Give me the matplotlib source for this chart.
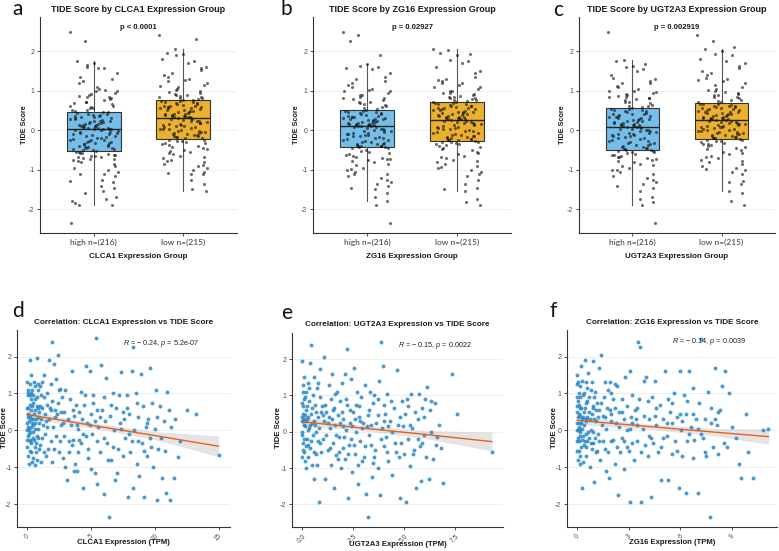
import matplotlib
matplotlib.use('Agg')
import matplotlib.pyplot as plt
import numpy as np

W, H = 779, 551

# ---------------- top row: TIDE score by expression group ----------------
groups = ['high n=(216)', 'low n=(215)']
p_labels = ['p < 0.0001', 'p = 0.02927', 'p = 0.002919']

# box stats: [whislo, q1, med, q3, whishi]
clca1_high_stats = [-1.9, -0.52, 0.03, 0.45, 1.75]
clca1_low_stats = [-1.55, -0.22, 0.30, 0.75, 2.05]
zg16_high_stats = [-1.8, -0.43, 0.10, 0.50, 1.68]
zg16_low_stats = [-1.55, -0.27, 0.25, 0.70, 2.05]
ugt2a3_high_stats = [-1.9, -0.50, 0.07, 0.55, 1.78]
ugt2a3_low_stats = [-1.55, -0.22, 0.25, 0.68, 2.05]

clca1_high = [2.48, 2.25, 1.76, 1.7, 1.6, 1.58, 1.56, 1.45, 1.3, 1.25, 1.2, 1.05, 1.0, 0.98,
              0.95, 0.9, 0.85, 0.8, 0.78, 0.72, 0.7, 0.65, 0.6, 0.58, 0.55, 0.5, 0.48, 0.45,
              0.42, 0.4, 0.38, 0.35, 0.33, 0.3, 0.28, 0.26, 0.24, 0.22, 0.2, 0.18, 0.16, 0.15,
              0.13, 0.12, 0.1, 0.09, 0.08, 0.07, 0.06, 0.05, 0.04, 0.03, 0.02,
              0.0, -0.02, -0.05, -0.08, -0.1, -0.12, -0.15, -0.17, -0.2, -0.22, -0.24, -0.26,
              -0.28, -0.3, -0.32, -0.34, -0.36, -0.38, -0.4, -0.42, -0.44, -0.46, -0.48, -0.5,
              -0.52, -0.55, -0.58, -0.6, -0.62, -0.65, -0.68, -0.7, -0.72, -0.75, -0.8, -0.85,
              -0.95, -1.0, -1.05, -1.1, -1.15, -1.25, -1.3, -1.4, -1.45, -1.55, -1.7, -1.75,
              -1.8, -1.9, -1.9, -2.35,
              1.65, 1.35, 1.1, 0.92, 0.83, 0.75, 0.68, 0.62, 0.56, 0.52, 0.47, 1.02, 0.87,
              0.43, 0.39, 0.36, 0.31, 0.27, 0.23, 0.19, 0.14, 0.11, 0.06, 0.04, 0.21, 0.34,
              0.01, -0.04, -0.09, -0.14, -0.19, -0.25, -0.29, -0.33, -0.39, -0.43, -0.47, -0.51,
              -0.07, -0.54, -0.63, -0.69, -0.74, -0.78, -0.9, -1.12, -1.28, -1.6, -1.85, -0.66,
              -0.57]
clca1_low = [2.4, 2.05, 1.95, 1.92, 1.9, 1.75, 1.7, 1.6, 1.58, 1.45, 1.35, 1.3, 1.28, 1.2,
             1.15, 1.1, 1.05, 1.0, 0.95, 0.92, 0.88, 0.85, 0.82, 0.8, 0.77,
             0.74, 0.72, 0.7, 0.68, 0.66, 0.64, 0.62, 0.6, 0.58, 0.56, 0.55, 0.53, 0.5, 0.48,
             0.46, 0.44, 0.42, 0.4, 0.38, 0.37, 0.36, 0.35, 0.33, 0.32, 0.3,
             0.28, 0.26, 0.24, 0.22, 0.2, 0.18, 0.16, 0.14, 0.12, 0.1, 0.08, 0.06, 0.04, 0.02,
             0.0, -0.02, -0.04, -0.06, -0.08, -0.1, -0.12, -0.14, -0.16, -0.18, -0.21,
             -0.24, -0.27, -0.3, -0.33, -0.37, -0.4, -0.45, -0.5, -0.55, -0.6, -0.65, -0.7,
             -0.75, -0.8, -0.85, -0.9, -0.95, -1.0, -1.05, -1.1, -1.1, -1.25, -1.35, -1.5, -1.55,
             2.3, 1.8, 1.52, 1.25, 1.12, 1.02, 0.97, 0.9, 0.86, 0.79, 0.76, 1.4, 0.84,
             0.73, 0.69, 0.65, 0.61, 0.57, 0.52, 0.49, 0.45, 0.41, 0.39, 0.34, 0.31, 0.59,
             0.27, 0.23, 0.19, 0.15, 0.11, 0.07, 0.03, -0.01, -0.05, -0.09, -0.13, -0.17, -0.2,
             -0.25, -0.28, -0.35, -0.42, -0.48, -0.58, -0.68, -0.78, -0.88, -1.08, -0.32, -0.52]
zg16_high = [2.48, 2.4, 2.25, 1.68, 1.62, 1.6, 1.55, 1.45, 1.35, 1.3, 1.2, 1.05, 1.02, 1.0,
             0.95, 0.9, 0.85, 0.8, 0.75, 0.72, 0.68, 0.63, 0.6, 0.55, 0.52,
             0.49, 0.47, 0.45, 0.43, 0.4, 0.38, 0.36, 0.33, 0.31, 0.3, 0.28, 0.27, 0.25, 0.22,
             0.2, 0.19, 0.17, 0.16, 0.15, 0.14, 0.13, 0.12, 0.11, 0.1, 0.1,
             0.08, 0.05, 0.03, 0.0, -0.03, -0.05, -0.08, -0.1, -0.13, -0.15, -0.18, -0.2,
             -0.22, -0.25, -0.27, -0.3, -0.32, -0.34, -0.36, -0.38, -0.39, -0.4, -0.41, -0.42,
             -0.43, -0.46, -0.5, -0.55, -0.6, -0.65, -0.7, -0.72, -0.75, -0.8, -0.88, -0.95,
             -1.0, -1.05, -1.1, -1.15, -1.2, -1.3, -1.35, -1.4, -1.5, -1.6, -1.7, -1.8, -1.9, -2.35,
             1.9, 1.58, 1.25, 1.1, 0.98, 0.88, 0.78, 0.7, 0.65, 0.58, 0.53, 1.15, 0.82,
             0.48, 0.44, 0.41, 0.37, 0.34, 0.29, 0.26, 0.23, 0.18, 0.15, 0.12, 0.21, 0.32,
             0.07, 0.04, 0.01, -0.02, -0.06, -0.11, -0.16, -0.21, -0.26, -0.31, -0.35, -0.4, -0.12,
             -0.45, -0.52, -0.62, -0.68, -0.73, -0.78, -0.85, -0.98, -1.25, -1.45, -0.58, -1.12]
zg16_low = [2.05, 2.02, 1.95, 1.9, 1.78, 1.75, 1.7, 1.5, 1.45, 1.3, 1.25, 1.2, 1.15, 1.1,
            1.05, 1.0, 0.95, 0.92, 0.9, 0.85, 0.82, 0.8, 0.77, 0.75, 0.72,
            0.69, 0.67, 0.65, 0.62, 0.6, 0.58, 0.56, 0.55, 0.53, 0.5, 0.48, 0.46, 0.45, 0.42,
            0.4, 0.38, 0.36, 0.34, 0.33, 0.31, 0.3, 0.29, 0.28, 0.27, 0.25,
            0.23, 0.21, 0.19, 0.17, 0.15, 0.12, 0.1, 0.08, 0.05, 0.03, 0.0, -0.02, -0.05,
            -0.07, -0.1, -0.12, -0.14, -0.16, -0.18, -0.2, -0.22, -0.23, -0.24, -0.26, -0.27,
            -0.3, -0.33, -0.36, -0.4, -0.45, -0.5, -0.55, -0.6, -0.65, -0.7, -0.75, -0.8,
            -0.85, -0.9, -0.95, -1.0, -1.05, -1.15, -1.25, -1.35, -1.45, -1.55, -1.75, -1.82, -1.9,
            1.92, 1.6, 1.35, 1.18, 1.08, 0.98, 0.93, 0.87, 0.83, 0.78, 0.74, 1.28, 0.71,
            0.68, 0.64, 0.61, 0.57, 0.54, 0.51, 0.47, 0.43, 0.39, 0.35, 0.32, 0.28, 0.44,
            0.24, 0.2, 0.16, 0.13, 0.09, 0.06, 0.02, -0.03, -0.08, -0.13, -0.17, -0.21, -0.25,
            -0.29, -0.31, -0.35, -0.38, -0.42, -0.48, -0.58, -0.68, -0.78, -0.92, -1.1, -1.5]
ugt2a3_high = [2.48, 1.78, 1.75, 1.62, 1.6, 1.55, 1.5, 1.3, 1.25, 1.2, 1.12, 1.05, 1.0, 0.97,
               0.95, 0.9, 0.85, 0.82, 0.8, 0.75, 0.72, 0.68, 0.64, 0.6, 0.57,
               0.54, 0.52, 0.5, 0.48, 0.45, 0.42, 0.4, 0.38, 0.36, 0.33, 0.3, 0.28, 0.26, 0.24,
               0.22, 0.2, 0.18, 0.16, 0.15, 0.13, 0.12, 0.11, 0.1, 0.08, 0.07,
               0.05, 0.03, 0.0, -0.03, -0.05, -0.08, -0.1, -0.13, -0.15, -0.18, -0.2, -0.23,
               -0.25, -0.28, -0.3, -0.33, -0.35, -0.38, -0.4, -0.42, -0.44, -0.46, -0.47, -0.48,
               -0.5, -0.53, -0.56, -0.6, -0.63, -0.67, -0.7, -0.75, -0.8, -0.85, -0.9, -0.95,
               -1.0, -1.05, -1.1, -1.15, -1.2, -1.3, -1.35, -1.45, -1.55, -1.7, -1.75, -1.82, -1.9, -2.35,
               1.68, 1.4, 1.18, 1.08, 0.99, 0.92, 0.87, 0.78, 0.7, 0.62, 0.58, 1.32, 0.84,
               0.53, 0.49, 0.44, 0.41, 0.37, 0.34, 0.29, 0.25, 0.21, 0.17, 0.14, 0.09, 0.31,
               0.04, 0.01, -0.02, -0.07, -0.11, -0.16, -0.21, -0.27, -0.32, -0.37, -0.43, -0.49, -0.12,
               -0.52, -0.58, -0.62, -0.65, -0.72, -0.78, -0.88, -1.02, -1.25, -1.4, -0.55, -0.69]
ugt2a3_low = [2.4, 2.25, 2.05, 2.0, 1.92, 1.9, 1.75, 1.7, 1.58, 1.45, 1.33, 1.3, 1.25, 1.2,
              1.1, 1.05, 1.0, 0.95, 0.92, 0.88, 0.85, 0.8, 0.77, 0.73, 0.7,
              0.67, 0.65, 0.63, 0.61, 0.59, 0.57, 0.55, 0.53, 0.51, 0.49, 0.47, 0.45, 0.43, 0.41,
              0.39, 0.37, 0.35, 0.33, 0.31, 0.3, 0.29, 0.28, 0.27, 0.26, 0.25,
              0.23, 0.21, 0.19, 0.17, 0.15, 0.13, 0.11, 0.09, 0.07, 0.05, 0.03, 0.01, -0.01,
              -0.03, -0.05, -0.07, -0.09, -0.11, -0.13, -0.15, -0.17, -0.18, -0.19, -0.2, -0.22,
              -0.25, -0.28, -0.32, -0.36, -0.4, -0.45, -0.5, -0.55, -0.6, -0.65, -0.7, -0.75,
              -0.8, -0.85, -0.9, -0.95, -1.0, -1.05, -1.1, -1.3, -1.35, -1.55, -1.6, -1.8, -1.9,
              2.1, 1.8, 1.62, 1.4, 1.28, 1.15, 1.02, 0.97, 0.9, 0.83, 0.75, 1.5, 0.72,
              0.66, 0.62, 0.58, 0.54, 0.5, 0.46, 0.42, 0.38, 0.34, 0.3, 0.27, 0.6, 0.44,
              0.24, 0.2, 0.16, 0.12, 0.08, 0.04, 0.0, -0.04, -0.08, -0.12, -0.16, -0.2, 0.1,
              -0.24, -0.27, -0.3, -0.38, -0.43, -0.48, -0.58, -0.68, -0.78, -0.98, -1.28, -0.35]

# ---------------- bottom row: correlation scatter (x = TPM, y = TIDE) ----------------
cor_labels = [r'$\it{R}$ = − 0.24, $\it{p}$ = 5.2e-07',
              r'$\it{R}$ = − 0.15, $\it{p}$ = 0.0022',
              r'$\it{R}$ = − 0.14, $\it{p}$ = 0.0039']

clca1_xy = [(0.0, 1.3), (0.05, 0.95), (0.1, 0.6), (0.0, 0.2), (0.1, -0.15), (0.0, -0.45), (0.15, -0.9),
            (0.2, 1.9), (0.3, 1.5), (0.25, 0.4), (0.3, 0.1), (0.2, -0.3), (0.35, -0.6), (0.4, 1.1),
            (0.45, 0.75), (0.5, 0.3), (0.5, -0.05), (0.55, -0.25), (0.45, -0.75), (0.6, 1.2), (0.6, 0.55),
            (0.65, 0.2), (0.7, -0.35), (0.7, -0.6), (0.8, 1.95), (0.8, 0.9), (0.85, 0.35), (0.9, 0.05),
            (0.9, -0.2), (0.95, -0.5), (0.05, 0.45), (0.15, 0.25), (0.1, 1.0), (0.3, 0.85), (0.4, -0.85),
            (0.55, 1.3), (0.75, 0.65), (0.15, -0.1), (0.25, -0.25), (0.35, 0.55), (0.65, -0.95),
            (0.85, 1.25), (0.0, 0.0), (0.2, 0.7), (0.5, 0.15), (0.95, 0.5),
            (1.0, 0.65), (1.1, 0.3), (1.2, 1.3), (1.2, -0.2), (1.3, 0.9), (1.4, 0.45), (1.5, -0.7),
            (1.6, 0.1), (1.7, 1.9), (1.8, 0.6), (1.9, -0.3), (2.0, 2.4), (2.0, 0.8), (2.1, 1.8),
            (2.2, 0.35), (2.3, -0.15), (2.4, 2.05), (2.4, 0.75), (2.5, 1.1), (2.6, -0.3), (2.6, 1.12),
            (2.8, -0.75), (2.9, 0.5), (3.0, -1.0), (3.1, -1.35), (1.3, -0.6), (1.6, 1.0), (2.2, 0.55),
            (2.7, 0.15), (1.1, 0.95), (1.5, 0.25), (1.9, 0.55), (2.9, -0.15),
            (3.2, 0.3), (3.3, -0.3), (3.4, 0.85), (3.5, 1.6), (3.5, -0.4), (3.6, -0.25), (3.7, 0.4),
            (3.8, -0.9), (3.9, -1.1), (4.0, 0.05), (4.1, 0.5), (4.2, -0.35), (4.2, 1.05), (4.3, 0.3),
            (4.4, -1.55), (4.5, 0.7), (4.6, 1.75), (4.7, 0.2), (4.8, -0.5), (4.9, 1.6), (5.0, 0.45),
            (5.0, -1.05), (5.1, -0.1), (5.2, 0.95), (5.3, -1.15), (5.4, 2.5), (5.5, 0.55), (5.5, -1.45),
            (5.6, 0.1), (5.7, -0.6), (5.8, 1.78), (5.9, 0.55), (6.0, -1.72), (6.1, 0.25), (6.2, 1.42),
            (6.3, -0.35), (6.4, -2.35), (6.5, 0.4), (6.6, -0.8), (6.7, 1.0), (6.8, 0.0), (6.9, -1.35),
            (7.0, 0.6), (3.6, 0.55), (4.0, -0.6), (4.6, -0.15), (5.3, 0.25), (6.0, -0.2), (6.6, 0.7),
            (3.9, 0.15),
            (7.1, -0.5), (7.2, 0.95), (7.3, 0.2), (7.4, 1.58), (7.5, -0.7), (7.6, 0.3), (7.7, -0.2),
            (7.8, 0.95), (7.9, -1.8), (8.0, 0.45), (8.1, -0.6), (8.2, 1.6), (8.3, -1.55), (8.3, 2.27),
            (8.4, 0.0), (8.5, 1.02), (8.6, -0.9), (8.7, 0.35), (8.8, -1.25), (8.9, 1.53), (9.0, -0.35),
            (9.1, 0.65), (9.2, -1.8), (9.3, 0.1), (9.4, -0.7), (9.5, 0.3), (9.6, 1.7), (9.7, -0.45),
            (9.8, 0.75), (9.9, -1.0), (10.0, 0.05), (10.1, 1.1), (10.2, -1.9), (10.3, -0.5), (10.4, 0.65),
            (10.6, -1.3), (10.7, 0.25), (10.9, -1.7), (11.0, 1.05), (11.2, -1.9), (11.3, 0.1),
            (11.5, -1.3), (7.5, 0.5), (8.0, -0.1), (8.7, -0.3), (9.4, 0.2), (10.5, -0.2),
            (11.8, -0.72), (12.5, 0.55), (13.2, 0.43), (15.0, -0.68), (11.6, 0.3), (12.0, -0.3),
            (0.0, 0.6), (0.0, -0.25), (0.05, 0.1), (0.05, 1.1), (0.1, -0.7), (0.1, 0.35), (0.15, 0.05),
            (0.2, 0.95), (0.2, -0.55), (0.25, 1.25), (0.25, -0.05), (0.3, 0.3), (0.35, -0.35), (0.35, 1.0),
            (0.4, 0.2), (0.4, 0.65), (0.45, -0.2), (0.5, 0.95), (0.55, 0.45), (0.6, -0.45), (0.6, 0.05),
            (0.65, 0.85), (0.7, 0.3), (0.75, -0.15), (0.8, -0.8), (0.85, 0.6), (0.9, 1.1), (0.95, 0.2),
            (1.0, -0.4), (1.05, 1.2), (1.1, -0.85), (1.15, 0.6), (1.25, 0.15), (1.35, 1.5), (1.45, -0.1),
            (1.55, 0.7), (1.65, -0.5), (1.75, 0.3), (1.85, 1.25), (1.95, -0.85), (2.05, 0.1), (2.15, -0.5),
            (2.25, 1.4), (2.35, 0.45), (2.5, -0.6), (2.65, 0.5), (2.75, 0.9), (2.85, 0.2), (3.0, 1.1),
            (3.3, -0.6), (3.45, 0.15), (3.65, -1.1), (3.85, 0.7), (4.05, -0.25), (4.35, -0.1), (4.55, 0.95),
            (4.75, -0.75), (4.95, 0.15), (5.15, 0.75), (5.45, -0.3), (5.75, 0.35), (6.05, 0.9), (6.35, -0.8),
            (6.75, -0.45), (7.05, -1.15), (7.4, 0.05), (7.85, 0.6), (8.25, -0.3), (8.65, 0.75),
            (9.15, -0.55), (9.65, -0.2), (10.15, 0.35), (10.8, -0.55), (11.1, 0.55)]

ugt2a3_xy = [(0.0, 1.95), (0.05, 1.3), (0.1, 0.9), (0.0, 0.4), (0.05, 0.3), (0.1, 0.2), (0.0, 0.0),
             (0.05, -0.3), (0.1, -0.55), (0.15, -0.8), (0.2, 1.1), (0.2, 0.6), (0.25, 0.35), (0.25, -0.2),
             (0.3, -0.7), (0.3, 1.35), (0.35, 0.85), (0.35, 0.1), (0.4, 1.9), (0.4, -0.45), (0.45, 2.4),
             (0.45, 0.5), (0.5, -0.9), (0.5, 0.25), (0.55, -0.1), (0.6, 1.5), (0.6, -1.3), (0.65, 0.75),
             (0.7, 0.0), (0.7, -0.6), (0.75, 1.2), (0.8, 0.4), (0.8, -0.25), (0.85, -1.92), (0.9, 0.95),
             (0.9, 1.72), (0.95, -0.55), (0.15, 0.45), (0.3, 0.05), (0.05, 0.7), (0.2, -1.0), (0.6, 0.3),
             (1.0, 0.7), (1.05, -0.2), (1.1, 2.05), (1.1, 0.3), (1.15, -1.3), (1.2, 0.55), (1.25, -0.5),
             (1.3, 1.3), (1.35, 0.1), (1.4, -0.9), (1.4, 0.9), (1.45, 1.6), (1.5, -0.3), (1.5, 0.6),
             (1.55, -1.55), (1.6, 0.2), (1.65, -0.65), (1.7, 1.1), (1.75, 0.45), (1.8, -0.15), (1.85, 0.85),
             (1.9, -1.0), (1.95, 1.35), (2.0, 0.35), (2.0, -0.45), (2.1, 1.6), (2.1, -0.75), (2.15, 0.05),
             (2.2, 2.27), (2.2, 0.75), (2.25, -1.83), (2.3, -0.35), (2.35, 0.25), (2.4, 1.45), (2.45, -1.1),
             (2.5, 0.55), (2.55, 1.75), (2.6, -0.6), (2.65, 0.0), (2.7, 1.1), (2.75, -1.45), (2.8, 0.4),
             (2.85, -0.25), (2.9, 0.95), (2.95, -0.8), (1.2, -0.1), (1.6, 1.05), (2.0, 0.15), (2.4, -0.2),
             (2.8, 0.7), (1.3, 0.4), (1.8, -0.55), (2.6, 0.35),
             (3.0, 0.25), (3.05, -0.7), (3.1, 1.3), (3.15, -1.72), (3.2, 0.15), (3.25, -2.35), (3.3, 0.6),
             (3.35, 1.1), (3.4, -0.35), (3.45, -1.25), (3.5, 0.8), (3.55, 1.0), (3.6, -0.5), (3.65, 0.25),
             (3.7, -1.0), (3.75, 1.4), (3.8, -1.75), (3.85, 2.48), (3.9, 0.1), (3.95, 1.8), (4.0, -0.4),
             (4.05, 0.5), (4.1, -0.15), (4.15, 1.05), (4.2, -0.8), (4.3, 0.3), (4.4, -1.2), (4.5, 0.65),
             (4.6, -0.55), (4.65, 1.7), (4.7, 0.2), (4.8, -1.82), (4.85, -0.3), (4.9, 0.85), (5.0, -0.6),
             (3.3, -0.1), (3.7, 0.45), (4.0, 0.75), (4.4, 0.0), (4.8, 0.4), (3.5, -0.85), (4.2, 0.15),
             (5.05, 0.5), (5.1, -1.92), (5.15, 0.9), (5.2, -0.2), (5.3, -0.95), (5.35, 1.05), (5.4, 0.1),
             (5.5, -0.5), (5.55, 0.55), (5.6, -1.55), (5.7, 0.35), (5.75, 1.05), (5.8, -0.4), (5.85, -1.35),
             (5.9, 0.65), (6.0, -0.1), (6.05, 0.9), (6.1, -0.7), (6.15, 1.22), (6.2, -1.3), (6.25, 0.6),
             (6.3, 0.0), (6.4, -0.75), (6.5, 0.78), (6.6, -0.15), (6.7, 0.2), (6.8, -0.45), (6.9, -1.4),
             (5.3, 0.2), (5.9, -0.3), (7.35, 1.6), (7.6, 0.5), (9.3, -0.55),
             (0.0, 0.8), (0.0, -0.1), (0.0, 0.3), (0.0, -0.7), (0.05, 0.5), (0.05, 1.1), (0.05, -0.5),
             (0.1, 0.35), (0.1, -0.2), (0.1, 1.5), (0.15, 0.15), (0.15, 0.95), (0.2, -0.4), (0.2, 0.3),
             (0.25, 0.7), (0.3, 0.4), (0.3, -0.35), (0.35, 1.2), (0.4, 0.2), (0.45, -0.25), (0.5, 0.65),
             (0.55, 1.0), (0.6, -0.55), (0.65, 0.2), (0.7, 0.55), (0.75, -0.9), (0.8, 1.35), (0.85, 0.1),
             (0.9, -0.3), (0.95, 0.55), (1.05, 0.45), (1.15, 0.75), (1.25, 0.25), (1.35, -0.45), (1.45, 0.35),
             (1.55, 0.65), (1.65, -0.1), (1.75, -0.75), (1.85, 0.25), (1.95, 0.55), (2.05, -0.15),
             (2.15, 0.9), (2.25, -0.6), (2.35, 0.6), (2.45, 0.15), (2.55, -0.35), (2.65, 0.75), (2.75, -0.9),
             (2.85, 0.3), (2.95, 0.1), (3.1, -0.4), (3.25, 0.45), (3.4, 0.2), (3.55, -0.7), (3.7, 0.9),
             (3.85, -0.2), (4.0, 0.3), (4.15, -0.55), (4.35, 0.85), (4.55, -0.3), (4.75, -0.7), (4.95, 0.15),
             (5.2, 0.7), (5.45, -0.6), (5.7, -0.2), (6.0, 0.4), (6.3, 0.85), (6.55, -0.35)]

zg16_xy = [(0.0, 1.5), (0.0, 0.9), (0.0, 0.5), (0.0, 0.2), (0.0, -0.3), (0.05, -0.8), (0.05, 1.3),
           (0.1, 0.7), (0.1, 0.1), (0.1, -0.55), (0.15, 1.2), (0.15, -0.05), (0.2, 0.4), (0.2, -0.9),
           (0.25, 1.75), (0.25, 0.2), (0.3, -0.25), (0.3, -1.55), (0.35, 0.95), (0.35, 0.35), (0.4, -0.4),
           (0.4, 1.0), (0.45, 1.92), (0.45, 0.6), (0.5, -0.1), (0.5, -0.7), (0.55, 1.3), (0.55, 0.25),
           (0.6, -0.3), (0.6, 0.8), (0.65, 1.55), (0.7, -0.2), (0.7, 0.5), (0.75, -1.0), (0.8, 1.1),
           (0.8, 0.0), (0.85, -0.5), (0.9, 1.88), (0.9, 0.65), (0.95, -0.35), (1.0, 0.3), (1.0, -1.4),
           (1.05, 1.05), (1.1, -0.6), (1.15, 0.75), (1.2, -0.1), (1.25, 1.7), (1.3, 0.55), (1.35, -0.8),
           (1.4, 2.05), (1.45, 0.15), (1.5, -0.3), (0.15, 0.6), (0.3, 0.05), (0.6, 0.35), (0.05, 0.0),
           (0.2, -0.15), (1.1, 0.25), (0.85, 0.45),
           (1.55, 0.9), (1.6, -0.5), (1.7, -1.1), (1.75, 0.6), (1.8, 1.1), (1.85, -1.3), (1.9, 1.3),
           (1.95, 0.25), (2.0, -0.3), (2.1, 0.85), (2.2, -0.9), (2.25, 0.2), (2.3, 1.2), (2.4, -1.75),
           (2.45, 0.5), (2.5, -0.6), (2.6, 0.85), (2.7, 0.3), (2.75, -1.05), (2.8, 1.45), (2.9, 0.0),
           (3.0, -0.55), (3.05, 1.62), (3.1, -1.93), (3.15, 0.35), (3.2, 0.95), (3.3, -0.8), (3.4, 0.3),
           (3.5, -0.3), (3.55, 2.4), (3.6, 0.85), (3.65, 2.25), (3.7, -1.93), (3.8, 0.05), (3.9, 1.35),
           (3.95, -0.4), (2.0, 0.45), (2.6, -0.2), (3.2, 0.2), (1.6, 0.35), (3.5, 0.6), (2.2, 1.25),
           (2.9, -0.45),
           (4.0, 1.45), (4.1, -0.7), (4.2, 0.3), (4.3, -1.8), (4.35, 0.9), (4.4, -0.35), (4.5, 1.35),
           (4.6, 0.15), (4.7, -0.6), (4.8, 0.7), (4.9, -1.35), (5.0, 0.3), (5.1, 1.6), (5.2, -0.15),
           (5.3, -1.35), (5.4, 0.5), (5.5, -0.65), (5.6, 1.0), (5.7, -0.3), (5.8, 0.35), (5.9, -1.55),
           (6.0, 1.6), (6.05, 0.0), (6.1, -0.7), (6.2, 0.95), (6.3, -1.7), (6.35, 0.45), (6.4, -0.3),
           (6.5, 1.6), (6.6, 0.1), (6.7, -0.75), (6.75, 1.15), (6.8, -0.25), (6.9, 0.3), (7.0, -1.7),
           (4.5, 0.4), (5.0, -0.2), (5.5, 0.2), (6.0, 0.45), (6.5, -0.1), (4.2, -0.15), (5.3, 0.85),
           (7.1, 0.75), (7.2, 2.48), (7.3, -0.2), (7.4, 0.3), (7.5, -0.7), (7.6, 1.05), (7.7, -2.35),
           (7.8, 0.6), (7.9, -0.45), (8.0, 1.7), (8.1, 0.15), (8.2, -0.65), (8.3, 0.55), (8.4, 1.2),
           (8.5, -0.35), (8.6, 1.6), (8.7, -0.45), (8.8, 1.0), (9.0, 0.1), (9.2, -0.2), (9.4, -0.9),
           (9.5, -1.3), (9.8, 0.45), (9.9, -0.6), (10.2, -1.3), (10.8, 0.0), (11.1, 0.05), (7.2, -0.1),
           (8.0, 0.3),
           (0.0, 1.25), (0.0, 0.0), (0.0, -0.55), (0.0, 0.65), (0.05, 0.35), (0.05, -0.2), (0.05, 0.8),
           (0.1, 1.0), (0.1, -0.3), (0.1, 0.45), (0.15, 0.2), (0.15, -0.7), (0.2, 0.9), (0.2, 0.05),
           (0.25, -0.45), (0.25, 0.6), (0.3, 1.35), (0.3, 0.3), (0.35, -0.15), (0.35, -0.85), (0.4, 0.5),
           (0.4, 0.15), (0.45, -0.3), (0.5, 0.75), (0.5, 0.3), (0.55, -0.45), (0.6, 1.15), (0.65, -0.05),
           (0.7, 0.9), (0.75, 0.3), (0.8, -0.35), (0.85, 1.3), (0.9, -0.05), (0.95, 0.6), (1.0, 0.9),
           (1.05, -0.2), (1.1, 0.55), (1.15, -0.55), (1.2, 0.35), (1.3, -0.3), (1.4, 0.75), (1.5, 0.4),
           (1.6, 1.3), (1.7, 0.05), (1.8, -0.6), (1.9, 0.55), (2.0, 1.0), (2.1, -0.25), (2.2, 0.6),
           (2.3, -0.45), (2.45, 0.1), (2.6, 0.5), (2.75, -0.3), (2.9, 0.65), (3.05, 0.05), (3.2, -0.35),
           (3.35, 0.55), (3.5, 0.15), (3.7, -0.6), (3.9, 0.4), (4.1, 0.8), (4.3, -0.2), (4.6, 0.6),
           (4.9, -0.45), (5.2, 0.2), (5.5, 0.75), (5.8, -0.55), (6.1, 0.25), (6.4, 0.8), (6.7, 0.45),
           (7.0, 0.05), (7.4, -0.6), (7.8, 0.2), (8.2, 0.5)]

# fitted lines and 95% bands: x, fit, half-width
clca1_fit = ([0, 5, 10, 15], [0.43, 0.14, -0.14, -0.43], [0.11, 0.07, 0.11, 0.28])
ugt2a3_fit = ([0, 3, 6, 9.3], [0.28, 0.10, -0.07, -0.27], [0.12, 0.07, 0.11, 0.26])
zg16_fit = ([0, 4, 8, 11.1], [0.27, 0.11, -0.05, -0.17], [0.11, 0.07, 0.1, 0.21])

BLUE_BOX = '#74BEE9'
ORANGE_BOX = '#EBB02E'
PT_BLUE = '#2B88C8'
LINE_ORANGE = '#E8601C'
TXT = '#1a1a1a'
TICK = '#4D4D4D'

plt.rcParams['font.family'] = ['Liberation Sans', 'DejaVu Sans']
plt.rcParams['axes.unicode_minus'] = False
plt.rcParams['mathtext.fontset'] = 'custom'
plt.rcParams['mathtext.it'] = 'Liberation Sans:italic'
plt.rcParams['mathtext.rm'] = 'Liberation Sans'


def rect(x0, y0, x1, y1):
    # pixel box -> figure fraction
    return [x0 / W, 1 - y1 / H, (x1 - x0) / W, (y1 - y0) / H]


def jitter(n, width):
    i = np.arange(n)
    return ((i * i * 0.7548776662 + i * 0.5698402910) % 1 - 0.5) * 2 * width


def style_axes(ax):
    for s in ['top', 'right']:
        ax.spines[s].set_visible(False)
    for s in ['left', 'bottom']:
        ax.spines[s].set_color('#333333')
        ax.spines[s].set_linewidth(0.8)
    ax.set_yticks([-2, -1, 0, 1, 2])
    ax.yaxis.grid(True, color='#EBEBEB', linewidth=0.6)
    ax.set_axisbelow(True)
    ax.tick_params(colors='#333333', labelcolor=TICK, labelsize=5, length=2, width=0.6, pad=2)


def box_panel(fig, box, gene, high, low, high_stats, low_stats, p_text, letter, letter_xy):
    ax = fig.add_axes(rect(*box))
    style_axes(ax)
    stats = []
    for st in [high_stats, low_stats]:
        stats.append({'whislo': st[0], 'q1': st[1], 'med': st[2], 'q3': st[3],
                      'whishi': st[4], 'fliers': []})
    bp = ax.bxp(stats, positions=[1, 2], widths=0.6, patch_artist=True, showfliers=False,
                showcaps=False,
                boxprops=dict(edgecolor='#333333', linewidth=0.8),
                medianprops=dict(color='#222222', linewidth=1.0),
                whiskerprops=dict(color='#555555', linewidth=0.8))
    for patch, c in zip(bp['boxes'], [BLUE_BOX, ORANGE_BOX]):
        patch.set_facecolor(c)
    for k, vals in enumerate([high, low]):
        xs = k + 1 + jitter(len(vals), 0.27)
        ax.scatter(xs, vals, s=5, color='#111111', alpha=0.6, linewidths=0, zorder=3)
    ax.set_xlim(0.4, 2.6)
    ax.set_ylim(-2.6, 2.86)
    ax.set_xticks([1, 2])
    ax.set_xticklabels(groups, family=['Lato', 'DejaVu Sans'], fontsize=6, color='#333333')
    ax.text(1.5, 2.6, p_text, ha='center', va='center', fontsize=5.5, fontweight='bold', color=TXT)
    cx = (box[0] + box[2]) / 2
    fig.text(cx / W, 1 - 9 / H, 'TIDE Score by %s Expression Group' % gene, ha='center',
             va='center', fontsize=6.5, fontweight='bold', color=TXT)
    fig.text(cx / W, 1 - 257 / H, '%s Expression Group' % gene, ha='center', va='center',
             fontsize=5.8, fontweight='bold', color=TXT)
    fig.text((box[0] - 16) / W, 1 - 125 / H, 'TIDE Score', rotation=90, ha='center',
             va='center', fontsize=5.2, fontweight='bold', color=TXT)
    fig.text(letter_xy[0] / W, 1 - letter_xy[1] / H, letter, ha='left', va='center',
             fontsize=15, family=['Lato', 'DejaVu Sans'], color='#111111')


def cor_panel(fig, box, gene, xy, fit, xlim, xticks, xticklabels, r_text, r_pos, letter,
              letter_xy, ylab_x, title_y, xlab_y):
    ax = fig.add_axes(rect(*box))
    style_axes(ax)
    pts = np.array(xy)
    ax.scatter(pts[:, 0], pts[:, 1], s=8, color=PT_BLUE, alpha=0.85, linewidths=0, zorder=3)
    fx, fy, hw = [np.array(v, dtype=float) for v in fit]
    ax.fill_between(fx, fy - hw, fy + hw, color='#BDBDBD', alpha=0.4, linewidth=0, zorder=2)
    ax.plot(fx, fy, color=LINE_ORANGE, linewidth=1.0, zorder=4)
    ax.set_xlim(*xlim)
    ax.set_ylim(-2.62, 2.72)
    ax.set_xticks(xticks)
    ax.set_xticklabels(xticklabels, rotation=45, ha='center', va='top', fontsize=4.8)
    ax.text(r_pos[0], r_pos[1], r_text, ha='left', va='center', fontsize=5.2, color='#222222')
    cx = (box[0] + box[2]) / 2
    fig.text(cx / W, 1 - title_y / H, 'Correlation: %s Expression vs TIDE Score' % gene,
             ha='center', va='center', fontsize=5.9, fontweight='bold', color=TXT)
    fig.text(cx / W, 1 - xlab_y / H, '%s Expression (TPM)' % gene, ha='center', va='center',
             fontsize=5.6, fontweight='bold', color=TXT)
    fig.text(ylab_x / W, 1 - 428 / H, 'TIDE Score', rotation=90, ha='center', va='center',
             fontsize=5.6, fontweight='bold', color=TXT)
    fig.text(letter_xy[0] / W, 1 - letter_xy[1] / H, letter, ha='left', va='center',
             fontsize=15, family=['Lato', 'DejaVu Sans'], color='#111111')


def main():
    fig = plt.figure(figsize=(W / 100, H / 100), dpi=100, facecolor='white')

    box_panel(fig, (40, 17, 237, 233), 'CLCA1', clca1_high, clca1_low,
              clca1_high_stats, clca1_low_stats, p_labels[0], 'a', (12, 9))
    box_panel(fig, (313, 17, 511, 233), 'ZG16', zg16_high, zg16_low,
              zg16_high_stats, zg16_low_stats, p_labels[1], 'b', (280, 9))
    box_panel(fig, (579, 17, 775, 233), 'UGT2A3', ugt2a3_high, ugt2a3_low,
              ugt2a3_high_stats, ugt2a3_low_stats, p_labels[2], 'c', (553, 10))

    cor_panel(fig, (17, 330, 230, 527), 'CLCA1', clca1_xy, clca1_fit, (-0.78, 15.9),
              [0, 5, 10, 15], ['0', '5', '10', '15'], cor_labels[0], (7.5, 2.35),
              'd', (12, 311), 5, 322, 543)
    cor_panel(fig, (292, 333, 503, 527), 'UGT2A3', ugt2a3_xy, ugt2a3_fit, (-0.49, 9.85),
              [0, 2.5, 5, 7.5], ['0.0', '2.5', '5.0', '7.5'], cor_labels[1], (4.7, 2.38),
              'e', (281, 313), 278, 324, 545)
    cor_panel(fig, (567, 330, 777, 527), 'ZG16', zg16_xy, zg16_fit, (-0.58, 11.6),
              [0, 3, 6, 9], ['0', '3', '6', '9'], cor_labels[2], (5.5, 2.4),
              'f', (549, 311), 554, 322, 543)

    fig.savefig('out.png', dpi=100, facecolor='white')


if __name__ == '__main__':
    main()
